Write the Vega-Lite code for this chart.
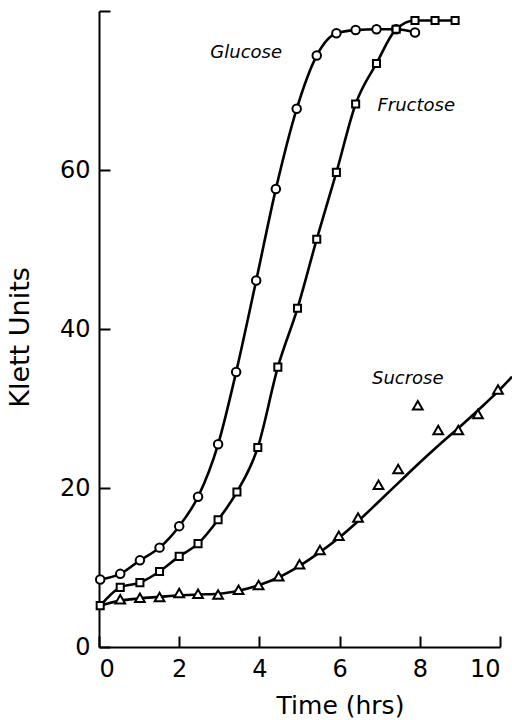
{
  "$schema": "https://vega.github.io/schema/vega-lite/v6.json",
  "width": 401,
  "height": 636,
  "autosize": {"type": "none"},
  "padding": {"left": 99, "top": 11, "right": 12, "bottom": 73},
  "background": "white",
  "config": {
    "view": {"stroke": null},
    "font": "DejaVu Sans"
  },
  "datasets": {
    "obs": [
      {"series": "Glucose", "t": 0.03, "k": 8.5},
      {"series": "Glucose", "t": 0.53, "k": 9.2},
      {"series": "Glucose", "t": 1.02, "k": 10.9},
      {"series": "Glucose", "t": 1.51, "k": 12.5},
      {"series": "Glucose", "t": 2.0, "k": 15.2},
      {"series": "Glucose", "t": 2.47, "k": 18.9},
      {"series": "Glucose", "t": 2.97, "k": 25.5},
      {"series": "Glucose", "t": 3.42, "k": 34.6},
      {"series": "Glucose", "t": 3.92, "k": 46.1},
      {"series": "Glucose", "t": 4.41, "k": 57.6},
      {"series": "Glucose", "t": 4.93, "k": 67.7},
      {"series": "Glucose", "t": 5.43, "k": 74.4},
      {"series": "Glucose", "t": 5.92, "k": 77.2},
      {"series": "Glucose", "t": 6.4, "k": 77.6},
      {"series": "Glucose", "t": 6.92, "k": 77.7},
      {"series": "Glucose", "t": 7.41, "k": 77.7},
      {"series": "Glucose", "t": 7.88, "k": 77.3},
      {"series": "Fructose", "t": 0.03, "k": 5.2},
      {"series": "Fructose", "t": 0.53, "k": 7.5},
      {"series": "Fructose", "t": 1.02, "k": 8.1},
      {"series": "Fructose", "t": 1.51, "k": 9.5},
      {"series": "Fructose", "t": 2.0, "k": 11.4},
      {"series": "Fructose", "t": 2.47, "k": 13.0},
      {"series": "Fructose", "t": 2.97, "k": 16.0},
      {"series": "Fructose", "t": 3.44, "k": 19.5},
      {"series": "Fructose", "t": 3.96, "k": 25.1},
      {"series": "Fructose", "t": 4.46, "k": 35.2},
      {"series": "Fructose", "t": 4.95, "k": 42.6},
      {"series": "Fructose", "t": 5.43, "k": 51.3},
      {"series": "Fructose", "t": 5.92, "k": 59.7},
      {"series": "Fructose", "t": 6.4, "k": 68.3},
      {"series": "Fructose", "t": 6.92, "k": 73.4},
      {"series": "Fructose", "t": 7.41, "k": 77.7},
      {"series": "Fructose", "t": 7.88, "k": 78.8},
      {"series": "Fructose", "t": 8.38, "k": 78.8},
      {"series": "Fructose", "t": 8.88, "k": 78.8},
      {"series": "Sucrose", "t": 0.53, "k": 6.0},
      {"series": "Sucrose", "t": 1.02, "k": 6.2},
      {"series": "Sucrose", "t": 1.51, "k": 6.3},
      {"series": "Sucrose", "t": 2.0, "k": 6.8},
      {"series": "Sucrose", "t": 2.47, "k": 6.7},
      {"series": "Sucrose", "t": 2.97, "k": 6.6},
      {"series": "Sucrose", "t": 3.48, "k": 7.2},
      {"series": "Sucrose", "t": 3.98, "k": 7.8},
      {"series": "Sucrose", "t": 4.48, "k": 8.9},
      {"series": "Sucrose", "t": 5.0, "k": 10.4},
      {"series": "Sucrose", "t": 5.51, "k": 12.2},
      {"series": "Sucrose", "t": 5.98, "k": 14.0},
      {"series": "Sucrose", "t": 6.46, "k": 16.3},
      {"series": "Sucrose", "t": 6.97, "k": 20.4},
      {"series": "Sucrose", "t": 7.46, "k": 22.4},
      {"series": "Sucrose", "t": 7.95, "k": 30.4},
      {"series": "Sucrose", "t": 8.46, "k": 27.3},
      {"series": "Sucrose", "t": 8.96, "k": 27.3},
      {"series": "Sucrose", "t": 9.45, "k": 29.3},
      {"series": "Sucrose", "t": 9.95, "k": 32.4}
    ],
    "fit": [
      {"t": 0.03, "k": 5.2},
      {"t": 0.5, "k": 5.8},
      {"t": 1.0, "k": 6.1},
      {"t": 1.5, "k": 6.3},
      {"t": 2.0, "k": 6.5},
      {"t": 2.5, "k": 6.6},
      {"t": 3.0, "k": 6.7},
      {"t": 3.5, "k": 7.1},
      {"t": 4.0, "k": 7.8},
      {"t": 4.5, "k": 8.8},
      {"t": 5.0, "k": 10.2},
      {"t": 5.5, "k": 11.9},
      {"t": 6.0, "k": 13.8},
      {"t": 6.5, "k": 16.0},
      {"t": 7.0, "k": 18.4},
      {"t": 7.5, "k": 20.8},
      {"t": 8.0, "k": 23.2},
      {"t": 8.5, "k": 25.5},
      {"t": 9.0, "k": 27.7},
      {"t": 9.5, "k": 30.0},
      {"t": 10.0, "k": 32.4},
      {"t": 10.3, "k": 34.0}
    ],
    "labels": [
      {"t": 3.67, "k": 74.7, "name": "Glucose"},
      {"t": 7.91, "k": 68.1, "name": "Fructose"},
      {"t": 7.7, "k": 33.7, "name": "Sucrose"}
    ],
    "xticks": [{"t": 2}, {"t": 4}, {"t": 6}, {"t": 8}, {"t": 10}],
    "yticks": [{"k": 20}, {"k": 40}, {"k": 60}, {"k": 80}]
  },
  "encoding": {
    "x": {
      "field": "t", "type": "quantitative",
      "scale": {"domain": [0, 10], "nice": false, "zero": false},
      "axis": {
        "title": "Time (hrs)", "values": [0, 2, 4, 6, 8, 10], "grid": false,
        "domainColor": "black", "domainWidth": 2,
        "ticks": true, "tickSize": -11, "tickWidth": 2, "tickColor": "black",
        "labelFlush": 11, "labelOverlap": false,
        "labelPadding": 21, "labelColor": "black", "labelFontSize": 24, "labelFont": "DejaVu Sans",
        "titleColor": "black", "titleFontSize": 25, "titleFont": "DejaVu Sans", "titleFontWeight": "normal",
        "titleX": 241, "titleY": 66, "titleBaseline": "alphabetic", "titleAlign": "center"
      }
    },
    "y": {
      "field": "k", "type": "quantitative",
      "scale": {"domain": [0, 80], "nice": false},
      "axis": {
        "title": "Klett Units", "values": [0, 20, 40, 60, 80], "grid": false,
        "labelExpr": "datum.value == 80 ? '' : datum.label",
        "domainColor": "black", "domainWidth": 2,
        "ticks": true, "tickSize": -11, "tickWidth": 2, "tickColor": "black",
        "labelFlush": false, "labelOverlap": false,
        "labelPadding": 20, "labelColor": "black", "labelFontSize": 24, "labelFont": "DejaVu Sans",
        "titleColor": "black", "titleFontSize": 27, "titleFont": "DejaVu Sans", "titleFontWeight": "normal",
        "titleX": -79, "titleY": 326, "titleAngle": -90, "titleBaseline": "middle", "titleAlign": "center"
      }
    }
  },
  "layer": [
    {
      "data": {"name": "xticks"},
      "mark": {"type": "rule", "color": "black", "strokeWidth": 2, "clip": false},
      "encoding": {"y": {"datum": 0}, "y2": {"datum": 1.38}}
    },
    {
      "data": {"name": "yticks"},
      "mark": {"type": "rule", "color": "black", "strokeWidth": 2, "clip": false},
      "encoding": {"x": {"datum": 0}, "x2": {"datum": 0.27}}
    },
    {
      "data": {"name": "obs"},
      "transform": [{"filter": "datum.series != 'Sucrose'"}],
      "mark": {"type": "line", "interpolate": "monotone", "color": "black", "strokeWidth": 2.6, "clip": false},
      "encoding": {"detail": {"field": "series"}}
    },
    {
      "data": {"name": "fit"},
      "mark": {"type": "line", "interpolate": "monotone", "color": "black", "strokeWidth": 2.6, "clip": false},
      "encoding": {}
    },
    {
      "data": {"name": "obs"},
      "transform": [{"filter": "datum.series == 'Glucose'"}],
      "mark": {"type": "point", "shape": "circle", "filled": true, "fill": "white", "stroke": "black", "strokeWidth": 2, "size": 72, "opacity": 1}
    },
    {
      "data": {"name": "obs"},
      "transform": [{"filter": "datum.series == 'Fructose'"}],
      "mark": {"type": "point", "shape": "square", "filled": true, "fill": "white", "stroke": "black", "strokeWidth": 2, "size": 50, "opacity": 1}
    },
    {
      "data": {"name": "obs"},
      "transform": [{"filter": "datum.series == 'Sucrose'"}],
      "mark": {"type": "point", "shape": "triangle-up", "filled": true, "fill": "white", "stroke": "black", "strokeWidth": 2, "size": 95, "opacity": 1}
    },
    {
      "data": {"name": "labels"},
      "mark": {"type": "text", "fontStyle": "italic", "fontSize": 18, "font": "DejaVu Sans", "color": "black", "align": "center", "baseline": "middle"},
      "encoding": {"text": {"field": "name"}}
    }
  ]
}
